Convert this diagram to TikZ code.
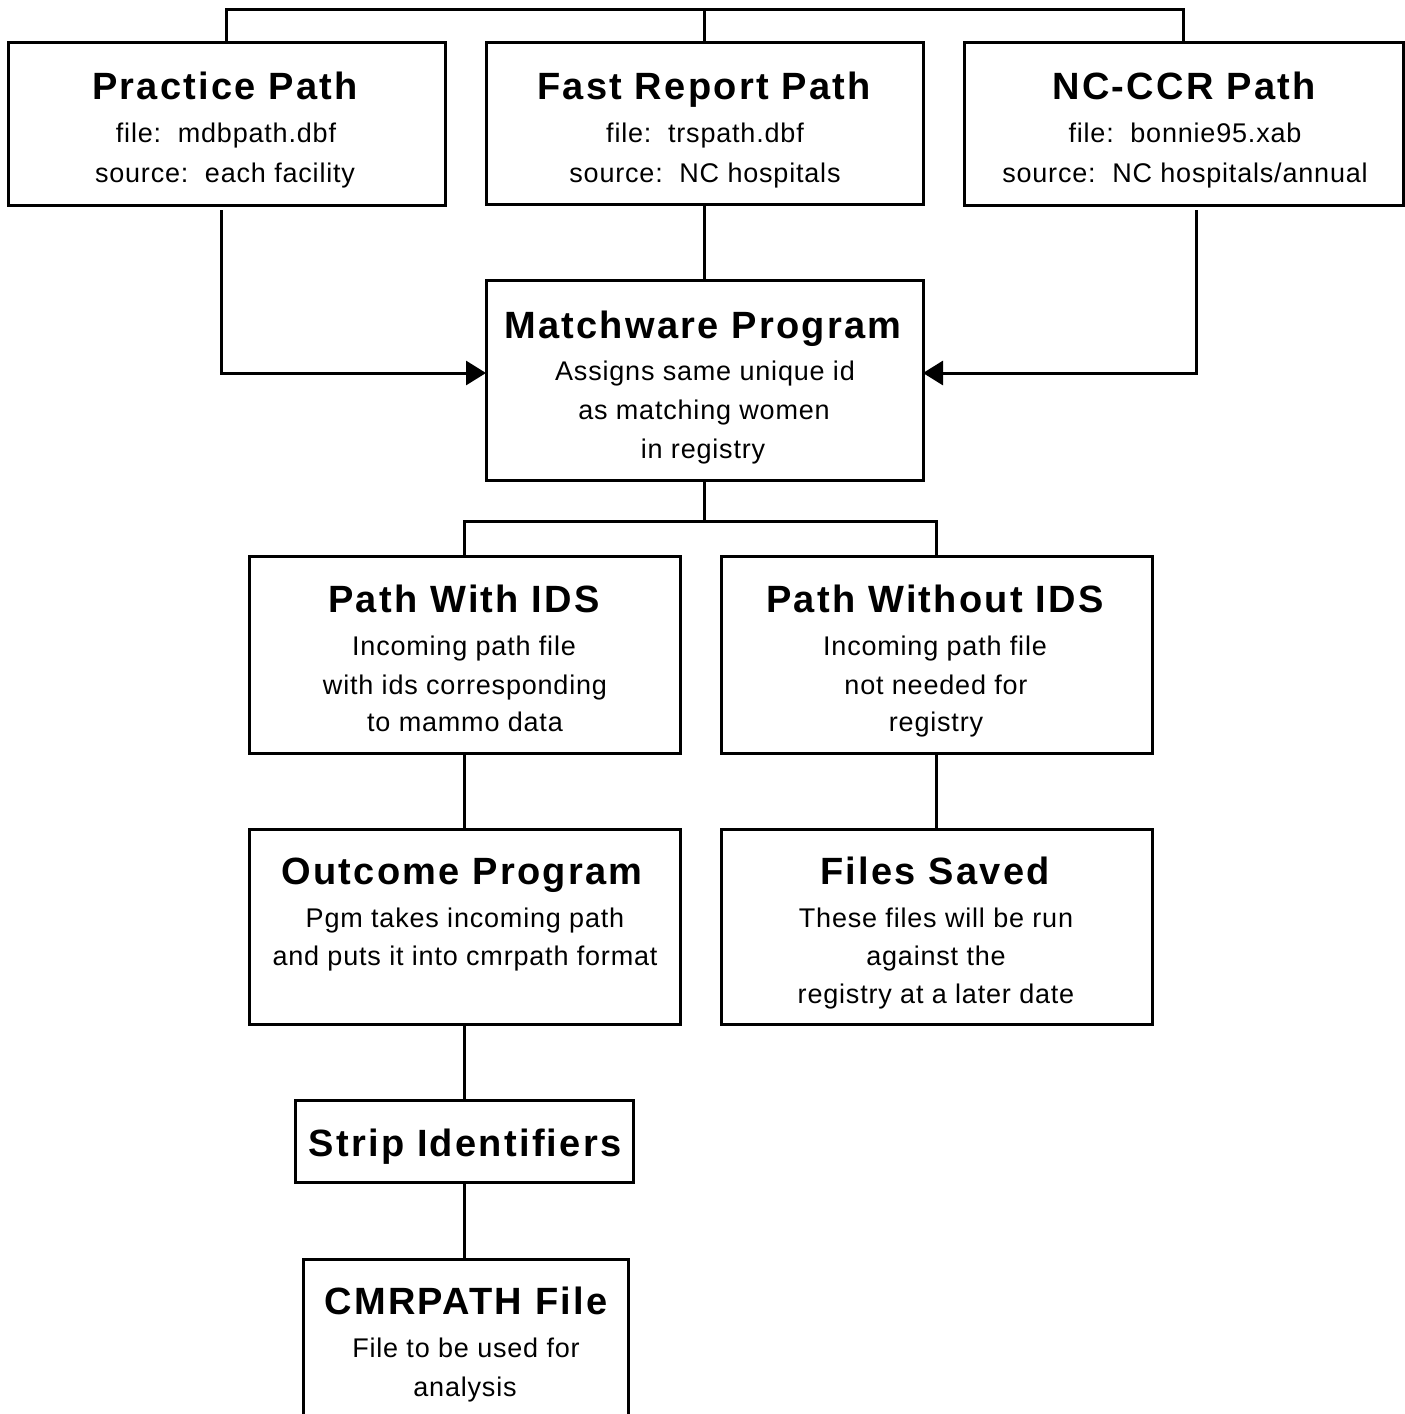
\documentclass[tikz,border=0pt]{standalone}
\usepackage{fontspec}
\setmainfont{Liberation Sans}
\newfontfamily\titlefont[LetterSpace=6]{Liberation Sans Bold}
\newfontfamily\bodyfont[LetterSpace=3]{Liberation Sans}
\usetikzlibrary{arrows.meta}
\begin{document}
\begin{tikzpicture}[x=1pt,y=-1pt,
  box/.style={draw,line width=3pt,inner sep=0pt,outer sep=0pt,anchor=north west},
  ttl/.style={anchor=base,inner sep=0pt,font=\titlefont\fontsize{38}{40}\selectfont},
  bdy/.style={anchor=base,inner sep=0pt,font=\bodyfont\fontsize{27}{30}\selectfont},
  conn/.style={line width=3pt},
  arr/.style={line width=3pt,-{Triangle[length=20pt,width=24pt]}}]
\useasboundingbox (0,0) rectangle (1405,1414);
\fill[white] (0,0) rectangle (1405,1414);
% boxes
\node[box,minimum width=437pt,minimum height=163pt] (pp) at (8,42) {};
\node[box,minimum width=437pt,minimum height=162pt] (fr) at (486,42) {};
\node[box,minimum width=439pt,minimum height=163pt] (nc) at (964,42) {};
\node[box,minimum width=437pt,minimum height=200pt] (mw) at (486,280) {};
\node[box,minimum width=431pt,minimum height=197pt] (pw) at (249,556) {};
\node[box,minimum width=431pt,minimum height=197pt] (po) at (721,556) {};
\node[box,minimum width=431pt,minimum height=195pt] (op) at (249,829) {};
\node[box,minimum width=431pt,minimum height=195pt] (fs) at (721,829) {};
\node[box,minimum width=338pt,minimum height=82pt] (si) at (295,1100) {};
\node[box,minimum width=325pt,minimum height=180pt] (cm) at (303,1259) {};
% texts
\node[ttl] (t1) at (225,99) {Practice Path};
\node[bdy] (t1a) at (226,142) {file:\ \ mdbpath.dbf};
\node[bdy] (t1b) at (225,182) {source:\ \ each facility};
\node[ttl] (t2) at (704,99) {Fast Report Path};
\node[bdy] (t2a) at (705,142) {file:\ \ trspath.dbf};
\node[bdy] (t2b) at (705,182) {source:\ \ NC hospitals};
\node[ttl] (t3) at (1184,99) {NC-CCR Path};
\node[bdy] (t3a) at (1185,142) {file:\ \ bonnie95.xab};
\node[bdy] (t3b) at (1185,182) {source:\ \ NC hospitals/annual};
\node[ttl] (t4) at (703,338) {Matchware Program};
\node[bdy] (t4a) at (705,380) {Assigns same unique id};
\node[bdy] (t4b) at (704,419) {as matching women};
\node[bdy] (t4c) at (703,458) {in registry};
\node[ttl] (t5) at (464,612) {Path With IDS};
\node[bdy] (t5a) at (464,655) {Incoming path file};
\node[bdy] (t5b) at (465,694) {with ids corresponding};
\node[bdy] (t5c) at (465,731) {to mammo data};
\node[ttl] (t6) at (935,612) {Path Without IDS};
\node[bdy] (t6a) at (935,655) {Incoming path file};
\node[bdy] (t6b) at (936,694) {not needed for};
\node[bdy] (t6c) at (936,731) {registry};
\node[ttl] (t7) at (462,884) {Outcome Program};
\node[bdy] (t7a) at (465,927) {Pgm takes incoming path};
\node[bdy] (t7b) at (465,965) {and puts it into cmrpath format};
\node[ttl] (t8) at (935,884) {Files Saved};
\node[bdy] (t8a) at (936,927) {These files will be run};
\node[bdy] (t8b) at (936,965) {against the};
\node[bdy] (t8c) at (936,1003) {registry at a later date};
\node[ttl] (t9) at (465,1156) {Strip Identifiers};
\node[ttl] (t10) at (466,1314) {CMRPATH File};
\node[bdy] (t10a) at (466,1357) {File to be used for};
\node[bdy] (t10b) at (465,1396) {analysis};
% connectors
\coordinate (top) at (705,9);
\draw[conn] (pp.north) |- (top) -| (nc.north);
\draw[conn] (fr.north) -- (fr.north |- top);
\draw[conn] (fr.south) -- (mw.north);
\coordinate (la) at (221,210);
\coordinate (ra) at (1196,210);
\draw[arr] (la) |- ([yshift=7pt]mw.west);
\draw[arr] (ra) |- ([yshift=7pt]mw.east);
\coordinate (mid) at (705,521);
\draw[conn] (mw.south) -- (mw.south |- mid);
\draw[conn] (pw.north) |- (mid) -| (po.north);
\draw[conn] (pw.south) -- (op.north);
\draw[conn] (po.south) -- (fs.north);
\draw[conn] (op.south) -- (op.south |- si.north);
\draw[conn] (si.south) -- (si.south |- cm.north);
\end{tikzpicture}
\end{document}
